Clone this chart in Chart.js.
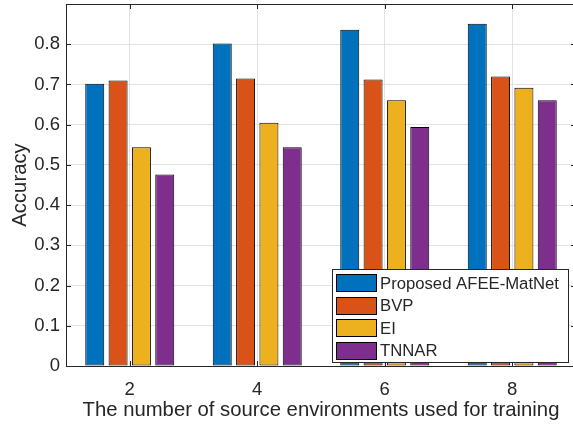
<!DOCTYPE html>
<html>
<head>
<meta charset="utf-8">
<script src="https://cdn.jsdelivr.net/npm/chart.js@4.4.0/dist/chart.umd.min.js"></script>
<style>
  html, body { margin: 0; padding: 0; background: #fff; overflow: hidden; }
  #chart { display: block; }
</style>
</head>
<body>
<canvas id="chart" width="580" height="428"></canvas>
<script>
// Accuracy vs. number of source environments (bar groups)
const CATEGORIES = ["2", "4", "6", "8"];
const SERIES_NAMES = ["Proposed AFEE-MatNet", "BVP", "EI", "TNNAR"];
const AFEE = [0.702, 0.802, 0.836, 0.851];
const BVP = [0.710, 0.715, 0.712, 0.720];
const EI = [0.544, 0.605, 0.661, 0.692];
const TNNAR = [0.476, 0.544, 0.594, 0.661];
const Y_TICKS = [0, 0.1, 0.2, 0.3, 0.4, 0.5, 0.6, 0.7, 0.8];
const Y_TICK_LABELS = ["0", "0.1", "0.2", "0.3", "0.4", "0.5", "0.6", "0.7", "0.8"];

const COLORS = ["#0072bd", "#d95319", "#edb120", "#7e2f8e"];
const AXIS_COLOR = "#262626";
const GRID_COLOR = "#e2e2e2";
const FONT = "'Liberation Sans', Arial, Helvetica, sans-serif";

/** Caixa do eixo + marcas de tick para dentro (estilo MATLAB) */
const boxAxes = {
  id: "boxAxes",
  afterDatasetsDraw(chart) {
    const { ctx, chartArea: a, scales: { x, y } } = chart;
    const len = 5;
    ctx.save();
    ctx.strokeStyle = AXIS_COLOR;
    ctx.lineWidth = 1;
    ctx.beginPath();
    x.ticks.forEach((t, i) => {
      const px = Math.round(x.getPixelForTick(i)) + 0.5;
      ctx.moveTo(px, a.bottom); ctx.lineTo(px, a.bottom - len);
      ctx.moveTo(px, a.top); ctx.lineTo(px, a.top + len);
    });
    y.ticks.forEach((t, i) => {
      const py = Math.round(y.getPixelForTick(i)) + 0.5;
      ctx.moveTo(a.left, py); ctx.lineTo(a.left + len, py);
      ctx.moveTo(a.right, py); ctx.lineTo(a.right - len, py);
    });
    ctx.stroke();
    ctx.strokeRect(Math.round(a.left) + 0.5, Math.round(a.top) + 0.5,
      Math.round(a.width), Math.round(a.height));
    ctx.restore();
  }
};

/** Legenda em caixa no canto inferior direito */
const boxLegend = {
  id: "boxLegend",
  afterDraw(chart) {
    const { ctx, chartArea: a } = chart;
    const w = 236, h = 93;
    const left = Math.round(a.right) - 8 - w;
    const top = Math.round(a.bottom) - 4 - h;
    ctx.save();
    ctx.fillStyle = "#fff";
    ctx.fillRect(left, top, w, h);
    ctx.strokeStyle = AXIS_COLOR;
    ctx.lineWidth = 1;
    ctx.strokeRect(left + 0.5, top + 0.5, w, h);
    ctx.font = "16.7px " + FONT;
    ctx.textBaseline = "middle";
    chart.data.datasets.forEach((ds, i) => {
      const cy = top + 14 + i * 22.6;
      ctx.fillStyle = ds.backgroundColor;
      ctx.fillRect(left + 4, Math.round(cy - 9), 41, 18);
      ctx.strokeStyle = "#000";
      ctx.strokeRect(left + 4.5, Math.round(cy - 9) + 0.5, 40, 17);
      ctx.fillStyle = AXIS_COLOR;
      ctx.fillText(ds.label, left + 48, cy + 1);
    });
    ctx.restore();
  }
};

const seriesValues = [AFEE, BVP, EI, TNNAR];

new Chart(document.getElementById("chart"), {
  type: "bar",
  data: {
    labels: CATEGORIES,
    datasets: seriesValues.map((vals, i) => ({
      label: SERIES_NAMES[i],
      data: vals,
      backgroundColor: COLORS[i],
      borderColor: "#000",
      borderWidth: 1,
      borderSkipped: false,
      barPercentage: 0.814,
      categoryPercentage: 0.732
    }))
  },
  options: {
    responsive: false,
    animation: false,
    layout: { padding: { top: 4, right: 4, bottom: 0, left: 0 } },
    plugins: {
      legend: { display: false },
      tooltip: { enabled: false }
    },
    scales: {
      x: {
        grid: { color: GRID_COLOR, offset: false, drawTicks: false },
        border: { display: false },
        ticks: { color: AXIS_COLOR, padding: 13, font: { family: FONT, size: 18.5 } },
        title: {
          display: true,
          text: "The number of source environments used for training",
          color: AXIS_COLOR,
          font: { family: FONT, size: 20.3 },
          padding: { top: 0, bottom: 5 }
        },
        afterFit: (s) => {
          s.height = 62;
          s.paddingLeft = 0;
          s.paddingRight = 0;
        }
      },
      y: {
        min: 0,
        max: 0.9,
        afterBuildTicks: (s) => { s.ticks = Y_TICKS.map((v) => ({ value: v })); },
        grid: { color: GRID_COLOR, drawTicks: false },
        border: { display: false },
        ticks: {
          color: AXIS_COLOR,
          padding: 6,
          font: { family: FONT, size: 18.5 },
          callback: (v, i) => Y_TICK_LABELS[i]
        },
        title: {
          display: true,
          text: "Accuracy",
          color: AXIS_COLOR,
          font: { family: FONT, size: 20.3 },
          padding: { top: 8, bottom: 0 }
        },
        afterFit: (s) => {
          s.width = 66;
          s.paddingTop = 0;
          s.paddingBottom = 0;
        }
      }
    }
  },
  plugins: [boxAxes, boxLegend]
});
</script>
</body>
</html>
